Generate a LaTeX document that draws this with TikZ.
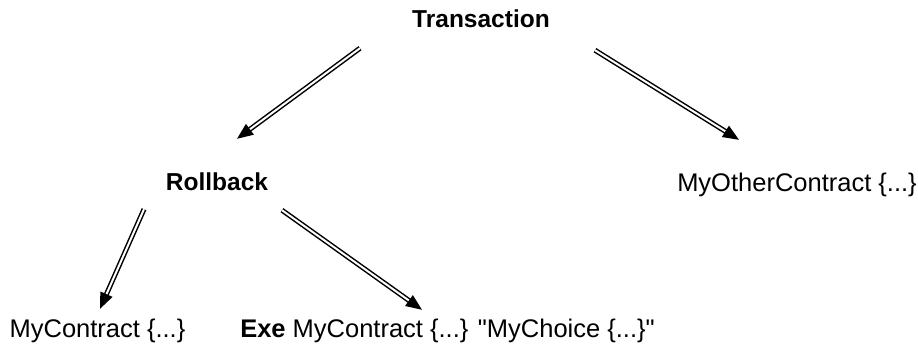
\documentclass[tikz,border=0pt]{standalone}
\usepackage{fontspec}
\newfontfamily\arialish{Liberation Sans}
\usepackage{tikz}
\usetikzlibrary{arrows.meta, positioning, calc}
\usepackage{xcolor}
\definecolor{ink}{RGB}{0,0,0}

\begin{document}
\begin{tikzpicture}[x=1pt, y=-1pt,
    lbl/.style={anchor=base, inner sep=0pt, text height=18pt, text depth=5pt,
      font=\arialish\fontsize{25.5}{30}\selectfont, text=ink},
    head/.style={lbl, font=\arialish\fontsize{24.5}{29}\selectfont\bfseries},
    dbl/.style={draw=ink, double=white, double distance=2pt, line width=1.5pt,
      -{Triangle[length=16pt, width=13pt]}}]
  \useasboundingbox (0,0) rectangle (918,345);
  \node[head] (trans) at (481,28) {Transaction};
  \node[head] (roll) at (217,190) {Rollback};
  \node[lbl] (other) at (797,191) {MyOtherContract \{...\}};
  \node[lbl] (mc) at (97.5,337) {MyContract \{...\}};
  \node[lbl] (exe) at (447.5,337) {\textbf{Exe} MyContract \{...\} "MyChoice \{...\}"};
  % arrows
  \draw[dbl] ([shift={(-121,15)}]trans.south) -- ([shift={(20,-33)}]roll.north);
  \draw[dbl] ([shift={(114,17)}]trans.south) -- ([shift={(-58,-33)}]other.north);
  \draw[dbl] ([shift={(-73,14)}]roll.south) -- ([shift={(2.5,-10)}]mc.north);
  \draw[dbl] ([shift={(65,15)}]roll.south) -- ([shift={(-25.5,-9)}]exe.north);
\end{tikzpicture}
\end{document}
